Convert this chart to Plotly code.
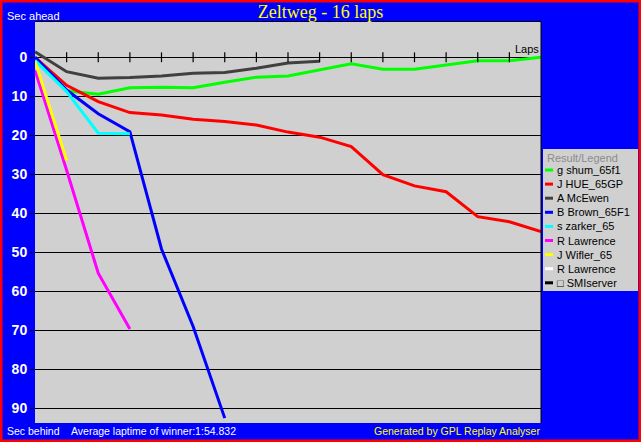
import plotly.graph_objects as go

# Gap to the winner (sec) per lap
laps = list(range(17))

shum = [0, 8.6, 9.5, 7.8, 7.7, 7.8, 6.4, 5.1, 4.8, 3.3, 1.7, 3.1, 3.1, 2.0, 0.9, 0.9, 0]
hue = [0, 7.2, 11.4, 14.2, 14.8, 15.9, 16.5, 17.4, 19.2, 20.5, 22.9, 30.1, 33.0, 34.5, 40.9, 42.2, 44.7]
mcewen = [-1.4, 3.7, 5.4, 5.2, 4.8, 4.1, 3.9, 2.8, 1.5, 1.0]
brown = [0, 8.4, 14.5, 19.1, 49.2, 69.1, 92.6]
zarker = [0.8, 8.8, 19.5, 19.6]
lawrence = [3.3, 29.0, 55.4, 69.7]
wifler = [1.0, 26.5]
lawrence2 = []
smiserver = []

driver_names = ["g shum_65f1", "J HUE_65GP", "A McEwen", "B Brown_65F1", "s zarker_65",
                "R Lawrence", "J Wifler_65", "R Lawrence", "\u25a1 SMIserver"]
driver_colors = ["#00ff00", "#ff0000", "#404040", "#0000ff", "#00ffff",
                 "#ff00ff", "#ffff00", "#ffffff", "#000000"]
series = [shum, hue, mcewen, brown, zarker, lawrence, wifler, lawrence2, smiserver]

y_ticks = [0, 10, 20, 30, 40, 50, 60, 70, 80, 90]
lap_ticks = list(range(1, 16))

# plot box in pixels (used to place the text outside it)
PL, PR, PT, PB = 35, 541, 22, 423
W, H = PR - PL, PB - PT


def px(x):
    return (x - PL) / W


def py(y):
    return (PB - y) / H


fig = go.Figure()

for name, color, vals in zip(driver_names, driver_colors, series):
    if vals:
        fig.add_trace(go.Scatter(x=laps[:len(vals)], y=vals, mode="lines", name=name,
                                 line=dict(color=color, width=3), showlegend=False))

# lap tick marks sitting on the zero line
fig.add_trace(go.Scatter(x=lap_ticks, y=[0] * len(lap_ticks), mode="markers", showlegend=False,
                         marker=dict(symbol="line-ns", size=7, line=dict(color="black", width=1.2))))

font = "Liberation Sans, Arial, sans-serif"
ann = []
ann.append(dict(text="Sec ahead", x=px(5), y=py(15.5), xref="paper", yref="paper",
                xanchor="left", yanchor="middle", showarrow=False, font=dict(color="white", size=11, family=font)))
ann.append(dict(text="Sec behind", x=px(5), y=py(431), xref="paper", yref="paper",
                xanchor="left", yanchor="middle", showarrow=False, font=dict(color="white", size=10.5, family=font)))
ann.append(dict(text="Average laptime of winner:1:54.832", x=px(69), y=py(431), xref="paper", yref="paper",
                xanchor="left", yanchor="middle", showarrow=False, font=dict(color="white", size=10.5, family=font)))
ann.append(dict(text="Generated by GPL Replay Analyser", x=px(542), y=py(431), xref="paper", yref="paper",
                xanchor="right", yanchor="middle", showarrow=False, font=dict(color="#ffff00", size=10.5, family=font)))
ann.append(dict(text="Laps", x=16, y=0, xref="x", yref="y", xanchor="right", yanchor="bottom",
                showarrow=False, font=dict(color="black", size=11, family=font)))

# hand-made legend box on the right
shapes = [dict(type="rect", xref="paper", yref="paper", x0=px(543), x1=px(638), y0=py(291), y1=py(149),
               fillcolor="#d0d0d0", line=dict(width=0), layer="below"),
          dict(type="line", xref="paper", yref="paper", x0=1, x1=1, y0=0, y1=1,
               line=dict(color="black", width=1)),
          dict(type="rect", xref="paper", yref="paper", x0=px(0), x1=px(641), y0=py(442), y1=py(0),
               line=dict(color="#ff0000", width=5), layer="above")]
ann.append(dict(text="Result/Legend", x=px(545), y=py(157.5), xref="paper", yref="paper",
                xanchor="left", yanchor="middle", showarrow=False, font=dict(color="#8c8c8c", size=11, family=font)))
for i, (name, color) in enumerate(zip(driver_names, driver_colors)):
    yc = 170 + i * 14.1
    shapes.append(dict(type="line", xref="paper", yref="paper", x0=px(545), x1=px(553), y0=py(yc), y1=py(yc),
                       line=dict(color=color, width=3)))
    ann.append(dict(text=name, x=px(555), y=py(yc), xref="paper", yref="paper",
                    xanchor="left", yanchor="middle", showarrow=False, font=dict(color="black", size=11, family=font)))

fig.update_layout(
    width=641, height=442,
    margin=dict(l=PL, r=641 - PR, t=PT, b=442 - PB),
    paper_bgcolor="#0000ff", plot_bgcolor="#d0d0d0",
    title=dict(text="Zeltweg - 16 laps", x=0.5, xanchor="center", y=1 - 11.5 / 442, yanchor="middle",
               font=dict(family="Liberation Serif, Times New Roman, serif", size=18, color="#ffff00")),
    xaxis=dict(range=[0, 16], showgrid=False, zeroline=False, showticklabels=False, ticks="",
               side="top", showline=True, linecolor="black", linewidth=1),
    yaxis=dict(range=[93.85, -9.05], tickvals=y_ticks, showgrid=True, gridcolor="black", gridwidth=1,
               zeroline=False, ticks="outside", ticklen=4, tickcolor="black", showline=False,
               tickfont=dict(family=font, size=14, color="white", weight="bold")),
    annotations=ann, shapes=shapes, showlegend=False,
)

# page has the browser's default 8px body margin; drop it so the chart fills the window
fig.write_html("out.html", config={"displayModeBar": False},
               post_script="document.body.style.margin='0';")
